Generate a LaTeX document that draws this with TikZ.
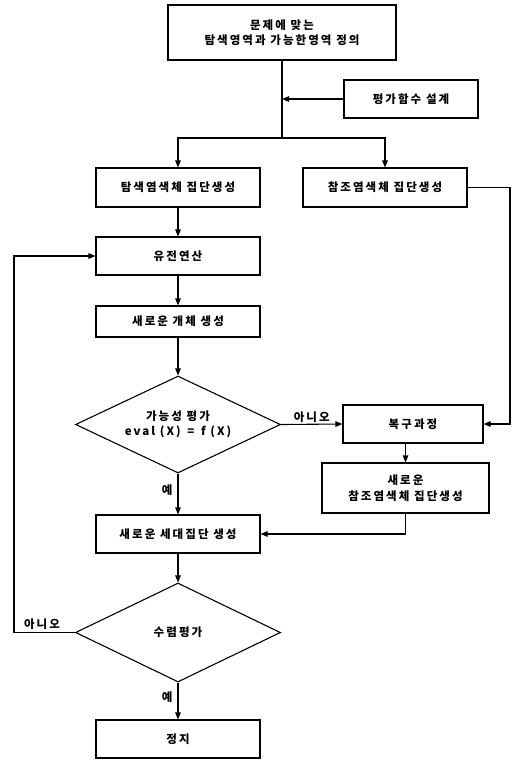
\documentclass[tikz,border=0pt]{standalone}
\usepackage{fontspec}
\setmainfont{Noto Sans CJK KR}[LetterSpace=18]
\usetikzlibrary{shapes.geometric,arrows.meta}
\begin{document}
\begin{tikzpicture}[x=1pt,y=-1pt,
  every node/.style={font=\fontsize{11.5}{15.5}\selectfont\bfseries},
  box/.style={draw,line width=1.1pt,inner sep=0pt,align=center},
  dia/.style={draw,line width=1.1pt,diamond,aspect=2.1,inner sep=0pt,align=center},
  conn/.style={line width=1.1pt},
  arr/.style={conn,-{Triangle[length=7pt,width=5.5pt]}},
  lbl/.style={inner sep=1pt}]
\useasboundingbox (0,0) rectangle (515,761);
\node[box,minimum width=228pt,minimum height=55pt] (top) at (282,32.5) {문제에 맞는\\탐색영역과 가능한영역 정의};
\node[box,minimum width=134pt,minimum height=38pt] (evalf) at (411,99) {평가함수 설계};
\node[box,minimum width=164pt,minimum height=39pt] (tsearch) at (178,187.5) {탐색염색체 집단생성};
\node[box,minimum width=164pt,minimum height=39pt] (tref) at (385,187.5) {참조염색체 집단생성};
\node[box,minimum width=164pt,minimum height=38pt] (gen) at (178,256) {유전연산};
\node[box,minimum width=164pt,minimum height=31pt] (newind) at (178,321.5) {새로운 개체 생성};
\node[dia,minimum width=205pt,minimum height=97pt] (d1) at (178,424.5) {가능성 평가\\eval (X) \,=\, f (X)};
\node[box,minimum width=140pt,minimum height=38pt] (recover) at (413,424) {복구과정};
\node[box,minimum width=167pt,minimum height=50pt] (newref) at (405.5,488) {새로운\\참조염색체 집단생성};
\node[box,minimum width=164pt,minimum height=38pt] (newgen) at (178,534) {새로운 세대집단 생성};
\node[dia,minimum width=205pt,minimum height=99pt] (d2) at (178,632.5) {수렴평가};
\node[box,minimum width=164pt,minimum height=38pt] (stop) at (178,739) {정지};
\coordinate (j0) at (282,99);
\coordinate (j1) at (282,138);
\coordinate (rx) at (510,0);
\coordinate (lx) at (14,0);
\draw[conn] (top.south) -- (j1);
\draw[arr] (evalf.west) -- (j0);
\draw[arr] (j1) -| (tsearch.north);
\draw[arr] (j1) -| (tref.north);
\draw[arr] (tsearch.south) -- (gen.north);
\draw[arr] (gen.south) -- (newind.north);
\draw[arr] (newind.south) -- (d1.north);
\draw[arr] (tref.east) -- (tref.east -| rx) |- (recover.east);
\draw[arr] (d1.east) -- node[lbl,above] {아니오} (recover.west);
\draw[arr] (newref.north |- recover.south) -- (newref.north);
\draw[arr] (newref.south) |- (newgen.east);
\draw[arr] (d1.south) -- node[lbl,left,xshift=-4pt,pos=0.4] {예} (newgen.north);
\draw[arr] (newgen.south) -- (d2.north);
\draw[arr] (d2.west) -- (d2.west -| lx) |- (gen.west);
\node[lbl] (no2) at (42,624) {아니오};
\draw[arr] (d2.south) -- node[lbl,left,xshift=-4pt,pos=0.4] {예} (stop.north);
\end{tikzpicture}
\end{document}
